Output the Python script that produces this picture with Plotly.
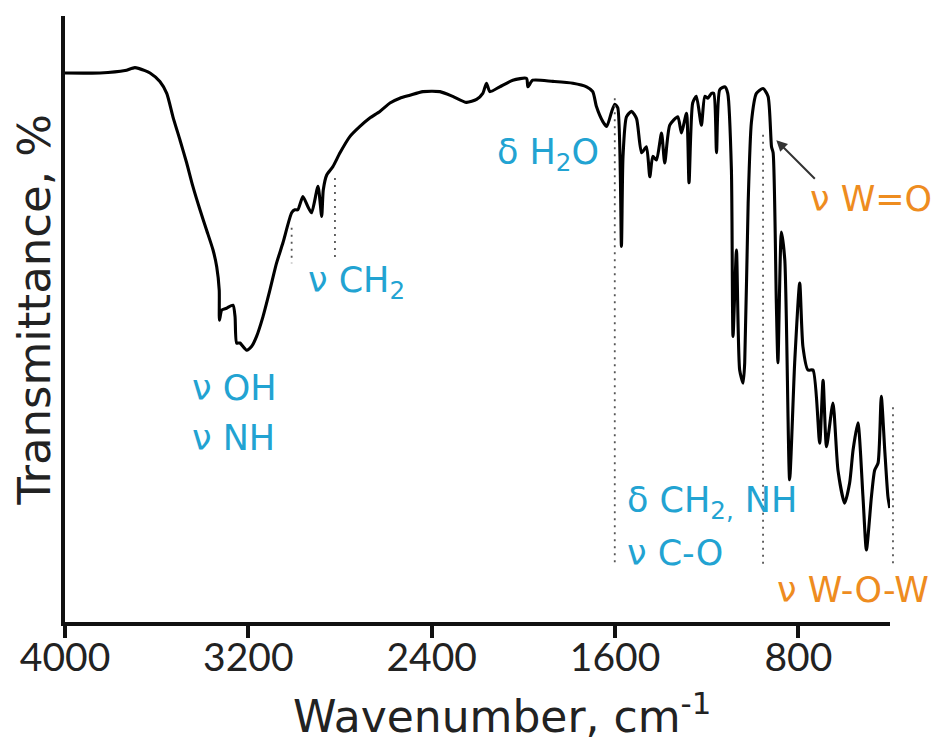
import plotly.graph_objects as go

# Spectrum (wavenumber, cm-1) and transmittance (arbitrary %)
wavenumber = [4000, 3847, 3738, 3695, 3651, 3629, 3586, 3556, 3529, 3498, 3469, 3442, 3411, 3382,
              3354, 3338, 3327, 3326, 3316, 3295, 3267, 3258, 3251, 3237, 3207, 3186, 3164, 3136,
              3106, 3077, 3049, 3011, 2997, 2984, 2962, 2940, 2924, 2896, 2880, 2873, 2858, 2831,
              2800, 2757, 2713, 2670, 2626, 2582, 2539, 2495, 2438, 2364, 2308, 2248, 2204, 2177,
              2161, 2146, 2103, 2046, 1986, 1980, 1959, 1871, 1784, 1724, 1697, 1681, 1653, 1636,
              1615, 1601, 1588, 1572, 1565, 1550, 1528, 1506, 1484, 1463, 1448, 1435, 1419, 1397,
              1383, 1361, 1326, 1310, 1288, 1277, 1261, 1245, 1223, 1208, 1195, 1179, 1169, 1157,
              1143, 1121, 1108, 1092, 1085, 1070, 1056, 1041, 1034, 1019, 1005, 983, 954, 932,
              917, 910, 896, 889, 874, 859, 838, 816, 794, 780, 758, 736, 707, 692, 677, 649,
              627, 598, 576, 561, 540, 518, 503, 481, 467, 452, 438, 423, 409, 401]
transmittance = [91.5, 91.5, 91.9, 92.4, 91.9, 91.5, 90.1, 88.1, 84.2, 80.3, 76.5, 72.6, 68.7, 65.3,
                 62.0, 59.2, 55.3, 50.3, 52.0, 52.3, 52.8, 50.9, 46.5, 46.5, 45.3, 45.9, 47.6, 50.9,
                 55.3, 59.8, 63.2, 68.2, 68.7, 68.7, 70.9, 69.2, 68.2, 72.6, 67.6, 72.0, 74.5, 75.9,
                 78.2, 80.9, 82.6, 84.0, 85.1, 86.5, 87.3, 87.8, 88.4, 88.4, 87.6, 86.6, 87.1, 88.1,
                 89.8, 88.4, 89.2, 90.3, 90.6, 89.2, 90.3, 90.1, 89.8, 89.2, 88.4, 85.9, 83.4, 82.6,
                 85.0, 86.3, 85.7, 62.6, 77.6, 84.2, 85.1, 83.9, 78.2, 79.2, 74.2, 77.6, 77.0, 81.5,
                 76.5, 82.8, 84.2, 81.5, 84.8, 73.2, 86.5, 87.6, 82.8, 87.6, 87.3, 88.1, 88.1, 78.2,
                 88.7, 89.2, 88.1, 75.3, 47.6, 62.0, 42.0, 39.8, 43.2, 69.8, 83.2, 88.1, 88.9, 87.6,
                 79.2, 78.2, 53.2, 43.2, 65.0, 60.3, 23.7, 43.2, 56.5, 45.9, 42.0, 42.0, 29.8, 40.3,
                 29.2, 36.5, 25.3, 19.8, 23.2, 28.7, 33.2, 20.9, 12.0, 20.9, 25.3, 26.5, 37.6, 28.7,
                 20.9, 19.0]

tick_values = [4000, 3200, 2400, 1600, 800]
tick_labels = ["4000", "3200", "2400", "1600", "800"]

# Dotted guide lines: wavenumber, top and bottom transmittance
guide_wn = [3011, 2822, 1601, 954, 387]
guide_top = [65.7, 74.0, 87.3, 81.2, 35.8]
guide_bottom = [59.8, 60.8, 9.5, 9.5, 9.5]

# Band labels: text, wavenumber (left edge), transmittance (centre), colour
CYAN = "#22a3d2"
ORANGE = "#ee8c1f"
label_text = ["ν OH", "ν NH", "ν CH<sub>2</sub>", "δ H<sub>2</sub>O",
              "δ CH<sub>2,</sub> NH", "ν C-O", "ν W=O", "ν W-O-W"]
label_wn = [3455, 3455, 2949, 2124, 1557, 1557, 759, 903]
label_t = [39.0, 30.7, 56.5, 78.0, 20.0, 11.5, 70.5, 5.3]
label_color = [CYAN, CYAN, CYAN, CYAN, CYAN, CYAN, ORANGE, ORANGE]

X_MIN, X_MAX = 400, 4000
Y_MAX = 101

TICK_FONT = "Lato, 'Open Sans', sans-serif"
TEXT_FONT = "'DejaVu Sans', sans-serif"

fig = go.Figure()
fig.add_trace(go.Scatter(x=wavenumber, y=transmittance, mode="lines",
                         line=dict(color="#000000", width=3.1, shape="spline", smoothing=0.6),
                         hoverinfo="skip", showlegend=False))

def xpaper(w):
    return (X_MAX - w) / (X_MAX - X_MIN)

shapes = []
for w, t0, t1 in zip(guide_wn, guide_top, guide_bottom):
    shapes.append(dict(type="line", xref="paper", yref="paper",
                       x0=xpaper(w), x1=xpaper(w), y0=t0 / Y_MAX, y1=t1 / Y_MAX,
                       line=dict(color="#555555", width=1.8, dash="2px,5px")))

annotations = []
for txt, w, t, c in zip(label_text, label_wn, label_t, label_color):
    annotations.append(dict(x=xpaper(w), y=t / Y_MAX, xref="paper", yref="paper",
                            text=txt, showarrow=False, xanchor="left", yanchor="middle",
                            font=dict(family=TEXT_FONT, size=35, color=c)))

# Arrow to the W=O shoulder
annotations.append(dict(x=896, y=80.3, xref="x", yref="y", text="", showarrow=True,
                        ax=40, ay=40, arrowhead=2, arrowsize=1.1, arrowwidth=2,
                        arrowcolor="#333333"))

# Axis titles
annotations.append(dict(x=0.53, y=-0.1, xref="paper", yref="paper",
                        text="Wavenumber, cm<sup>-1</sup>", showarrow=False,
                        xanchor="center", yanchor="top",
                        font=dict(family=TEXT_FONT, size=44, color="#222222")))
annotations.append(dict(x=-0.037, y=0.515, xref="paper", yref="paper",
                        text="Transmittance, %", showarrow=False, textangle=-90,
                        xanchor="center", yanchor="middle",
                        font=dict(family=TEXT_FONT, size=45, color="#222222")))

fig.update_layout(
    width=949, height=747,
    margin=dict(l=57, r=67, t=8, b=133),
    paper_bgcolor="white", plot_bgcolor="white",
    shapes=shapes, annotations=annotations,
    xaxis=dict(range=[X_MAX, X_MIN], tickvals=tick_values, ticktext=tick_labels,
               ticks="outside", ticklen=12, tickwidth=3.5, tickcolor="#111111",
               ticklabelstandoff=-14,
               showline=True, linewidth=3.5, linecolor="#111111",
               showgrid=False, zeroline=False,
               tickfont=dict(family=TICK_FONT, size=39, color="#222222")),
    yaxis=dict(range=[0, Y_MAX], showticklabels=False, ticks="",
               showline=True, linewidth=3.5, linecolor="#111111",
               showgrid=False, zeroline=False),
)

fig.write_html("out.html")
